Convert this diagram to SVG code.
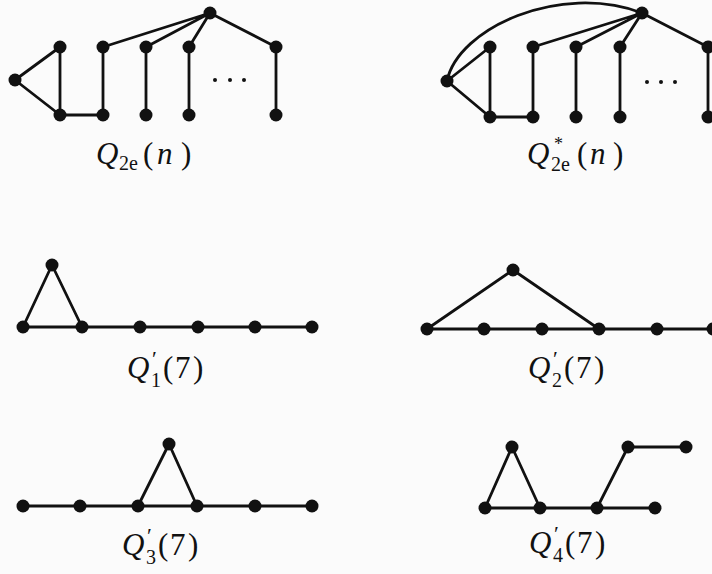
<svg xmlns="http://www.w3.org/2000/svg" width="712" height="574" viewBox="0 0 712 574">
<style>
.e{stroke:#111;stroke-width:2.8;fill:none;stroke-linecap:round}
.n{fill:#111}
.lbl{font-family:"Liberation Serif","DejaVu Serif",serif;font-size:31px;fill:#111}
.it{font-style:italic}
.sub{font-size:20px}
.pr{font-size:22px}
.st{font-size:18px}
.dot{fill:#111}
</style>
<rect width="712" height="574" fill="#fbfbfb"/>
<g id="connectors">
<path class="e" d="M15 80L60 47M15 80L60 115M60 47V115M60 115H103M103 47V115M146 47V115M189 47V115M276 47V115M210 13L103 47M210 13L146 47M210 13L189 47M210 13L276 47"/>
<path class="e" d="M447 81L490 47M447 81L490 117M490 47V117M490 117H533M533 47V117M576 47V117M620 47V117M708 47V117M642 13L533 47M642 13L576 47M642 13L620 47M642 13L708 47"/>
<path class="e" d="M447 81C458 28 560 -18 642 13"/>
<path class="e" d="M23 327H312M52 265L23 327M52 265L82 327"/>
<path class="e" d="M427 329H713M513 270L427 329M513 270L599 329"/>
<path class="e" d="M23 506H312M169 444L138 506M169 444L197 506"/>
<path class="e" d="M485 508H655M512 447L485 508M512 447L540 508M597 508L628 447H686"/>
</g>
<g id="q2e-hub"><circle class="n" cx="210" cy="13" r="6.5"/></g>
<g id="q2e-left"><circle class="n" cx="15" cy="80" r="6.5"/></g>
<g id="q2e-t1"><circle class="n" cx="60" cy="47" r="6.5"/></g>
<g id="q2e-t2"><circle class="n" cx="103" cy="47" r="6.5"/></g>
<g id="q2e-t3"><circle class="n" cx="146" cy="47" r="6.5"/></g>
<g id="q2e-t4"><circle class="n" cx="189" cy="47" r="6.5"/></g>
<g id="q2e-t5"><circle class="n" cx="276" cy="47" r="6.5"/></g>
<g id="q2e-b1"><circle class="n" cx="60" cy="115" r="6.5"/></g>
<g id="q2e-b2"><circle class="n" cx="103" cy="115" r="6.5"/></g>
<g id="q2e-b3"><circle class="n" cx="146" cy="115" r="6.5"/></g>
<g id="q2e-b4"><circle class="n" cx="189" cy="115" r="6.5"/></g>
<g id="q2e-b5"><circle class="n" cx="276" cy="115" r="6.5"/></g>
<g id="q2e-dots"><circle class="dot" cx="215" cy="80" r="2"/><circle class="dot" cx="230" cy="80" r="2"/><circle class="dot" cx="244" cy="80" r="2"/></g>
<g id="q2e-label"><text class="lbl"><tspan class="it" x="96" y="164">Q</tspan><tspan class="sub" x="119" y="170">2e</tspan><tspan x="143" y="164">(</tspan><tspan class="it" x="157" y="164">n</tspan><tspan x="181" y="164">)</tspan></text></g>

<g id="q2s-hub"><circle class="n" cx="642" cy="13" r="6.5"/></g>
<g id="q2s-left"><circle class="n" cx="447" cy="81" r="6.5"/></g>
<g id="q2s-t1"><circle class="n" cx="490" cy="47" r="6.5"/></g>
<g id="q2s-t2"><circle class="n" cx="533" cy="47" r="6.5"/></g>
<g id="q2s-t3"><circle class="n" cx="576" cy="47" r="6.5"/></g>
<g id="q2s-t4"><circle class="n" cx="620" cy="47" r="6.5"/></g>
<g id="q2s-t5"><circle class="n" cx="708" cy="47" r="6.5"/></g>
<g id="q2s-b1"><circle class="n" cx="490" cy="117" r="6.5"/></g>
<g id="q2s-b2"><circle class="n" cx="533" cy="117" r="6.5"/></g>
<g id="q2s-b3"><circle class="n" cx="576" cy="117" r="6.5"/></g>
<g id="q2s-b4"><circle class="n" cx="620" cy="117" r="6.5"/></g>
<g id="q2s-b5"><circle class="n" cx="708" cy="117" r="6.5"/></g>
<g id="q2s-dots"><circle class="dot" cx="647" cy="82" r="2"/><circle class="dot" cx="661" cy="82" r="2"/><circle class="dot" cx="675" cy="82" r="2"/></g>
<g id="q2s-label"><text class="lbl"><tspan class="it" x="527" y="164">Q</tspan><tspan class="st" x="554" y="150">*</tspan><tspan class="sub" x="551" y="171">2e</tspan><tspan x="577" y="164">(</tspan><tspan class="it" x="590" y="164">n</tspan><tspan x="613" y="164">)</tspan></text></g>

<g id="q1-a"><circle class="n" cx="52" cy="265" r="6.5"/></g>
<g id="q1-b1"><circle class="n" cx="23" cy="327" r="6.5"/></g>
<g id="q1-b2"><circle class="n" cx="82" cy="327" r="6.5"/></g>
<g id="q1-b3"><circle class="n" cx="140" cy="327" r="6.5"/></g>
<g id="q1-b4"><circle class="n" cx="198" cy="327" r="6.5"/></g>
<g id="q1-b5"><circle class="n" cx="255" cy="327" r="6.5"/></g>
<g id="q1-b6"><circle class="n" cx="312" cy="327" r="6.5"/></g>
<g id="q1-label"><text class="lbl"><tspan class="it" x="127" y="378">Q</tspan><tspan class="pr" x="152" y="366">′</tspan><tspan class="sub" x="151" y="387">1</tspan><tspan x="163" y="378">(</tspan><tspan x="175" y="378">7</tspan><tspan x="193" y="378">)</tspan></text></g>

<g id="q2-a"><circle class="n" cx="513" cy="270" r="6.5"/></g>
<g id="q2-b1"><circle class="n" cx="427" cy="329" r="6.5"/></g>
<g id="q2-b2"><circle class="n" cx="484" cy="329" r="6.5"/></g>
<g id="q2-b3"><circle class="n" cx="542" cy="329" r="6.5"/></g>
<g id="q2-b4"><circle class="n" cx="599" cy="329" r="6.5"/></g>
<g id="q2-b5"><circle class="n" cx="657" cy="329" r="6.5"/></g>
<g id="q2-b6"><circle class="n" cx="713" cy="329" r="6.5"/></g>
<g id="q2-label"><text class="lbl"><tspan class="it" x="528" y="378">Q</tspan><tspan class="pr" x="553" y="366">′</tspan><tspan class="sub" x="552" y="387">2</tspan><tspan x="564" y="378">(</tspan><tspan x="576" y="378">7</tspan><tspan x="594" y="378">)</tspan></text></g>

<g id="q3-a"><circle class="n" cx="169" cy="444" r="6.5"/></g>
<g id="q3-b1"><circle class="n" cx="23" cy="506" r="6.5"/></g>
<g id="q3-b2"><circle class="n" cx="80" cy="506" r="6.5"/></g>
<g id="q3-b3"><circle class="n" cx="138" cy="506" r="6.5"/></g>
<g id="q3-b4"><circle class="n" cx="197" cy="506" r="6.5"/></g>
<g id="q3-b5"><circle class="n" cx="255" cy="506" r="6.5"/></g>
<g id="q3-b6"><circle class="n" cx="312" cy="506" r="6.5"/></g>
<g id="q3-label"><text class="lbl"><tspan class="it" x="122" y="555">Q</tspan><tspan class="pr" x="147" y="543">′</tspan><tspan class="sub" x="146" y="564">3</tspan><tspan x="158" y="555">(</tspan><tspan x="170" y="555">7</tspan><tspan x="188" y="555">)</tspan></text></g>

<g id="q4-a"><circle class="n" cx="512" cy="447" r="6.5"/></g>
<g id="q4-b1"><circle class="n" cx="485" cy="508" r="6.5"/></g>
<g id="q4-b2"><circle class="n" cx="540" cy="508" r="6.5"/></g>
<g id="q4-b3"><circle class="n" cx="597" cy="508" r="6.5"/></g>
<g id="q4-b4"><circle class="n" cx="655" cy="508" r="6.5"/></g>
<g id="q4-c1"><circle class="n" cx="628" cy="447" r="6.5"/></g>
<g id="q4-c2"><circle class="n" cx="686" cy="447" r="6.5"/></g>
<g id="q4-label"><text class="lbl"><tspan class="it" x="529" y="553">Q</tspan><tspan class="pr" x="554" y="541">′</tspan><tspan class="sub" x="553" y="562">4</tspan><tspan x="565" y="553">(</tspan><tspan x="577" y="553">7</tspan><tspan x="595" y="553">)</tspan></text></g>
</svg>
